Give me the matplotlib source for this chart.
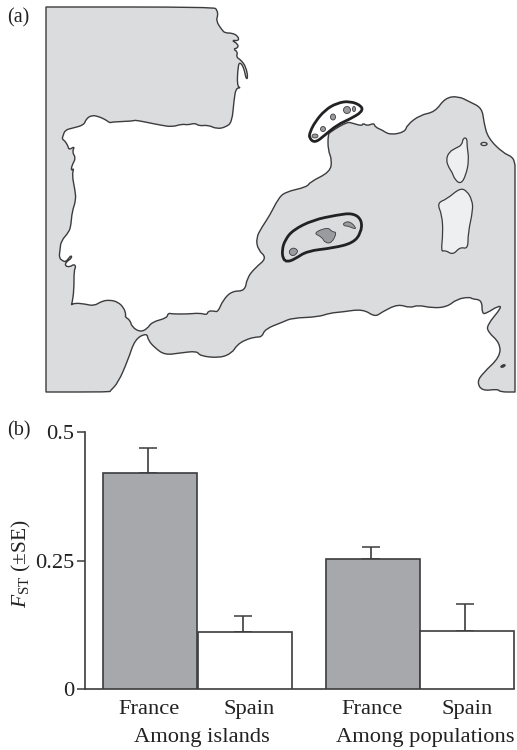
import matplotlib
matplotlib.use("Agg")
import matplotlib.pyplot as plt
from matplotlib.patches import PathPatch, Ellipse
from matplotlib.path import Path

plt.rcParams['font.family'] = ['Liberation Serif', 'DejaVu Serif']
plt.rcParams['mathtext.fontset'] = 'custom'
plt.rcParams['mathtext.rm'] = 'Liberation Serif'
plt.rcParams['mathtext.it'] = 'Liberation Serif:italic'

DARK = '#3c3c3e'
SEA = '#dbdcde'
BAR_GREY = '#a7a8ab'
ISLET = '#9a9b9e'
TEXT = '#222222'
FS = 16.2

# panel (b) values
group_labels = ['Among islands', 'Among populations']
bar_labels = ['France', 'Spain', 'France', 'Spain']
fst = [0.42, 0.111, 0.2535, 0.1135]
fst_upper = [0.469, 0.1426, 0.2757, 0.1648]
bar_colors = [BAR_GREY, 'white', BAR_GREY, 'white']

# panel (a) outlines in pixels (corners listed twice stay sharp)
sea_outline = [
    (46, 7), (46, 7), (214, 7), (217, 10), (218, 15), (216, 21), (222, 30), (225, 33), (232, 33), (238, 36),
    (239, 41), (231, 40), (238, 44), (238, 48), (233, 49), (238, 52), (236, 57), (241, 60), (246, 67),
    (248, 78), (246, 79), (244, 68), (240, 62), (238, 66), (237, 86), (241, 88), (236, 88), (234, 100),
    (232, 122), (226, 127), (217, 129), (208, 125), (199, 126), (195, 123), (188, 125), (182, 124),
    (172, 127), (160, 125), (150, 123), (135, 120), (134, 121), (111, 122), (110, 123), (106, 120),
    (100, 117), (92, 115), (86, 119), (84, 125), (73, 128), (65, 130), (63, 136), (62, 139), (65, 141),
    (68, 146), (69, 150), (75, 146), (72, 152), (76, 158), (72, 165), (71, 171), (74, 168), (72, 175),
    (75, 190), (76, 200), (72, 212), (71, 225), (69, 232), (61, 241), (60, 250), (59, 258), (63, 261),
    (66, 262), (71, 255), (72, 258), (66, 262), (65, 266), (70, 267), (74, 264), (76, 267), (74, 270),
    (74, 290), (72, 304), (71, 305), (75, 303), (85, 304), (94, 306), (102, 301), (110, 300), (118, 302),
    (124, 308), (126, 315), (125, 317), (130, 320), (132, 327), (140, 332), (147, 329), (152, 322),
    (167, 318), (168, 313), (172, 314), (188, 314), (200, 313), (207, 315), (208, 311), (214, 311),
    (218, 312), (223, 300), (232, 291), (245, 291), (247, 278), (255, 268), (267, 258), (258, 250),
    (256, 238), (262, 227), (270, 215), (278, 199), (285, 192), (307, 187), (310, 182), (330, 172),
    (332, 160), (328, 150), (328, 135), (330, 132), (347, 122), (352, 123), (362, 126), (363, 123),
    (367, 126), (374, 123), (375, 127), (382, 130), (390, 135), (405, 132), (407, 125), (420, 115),
    (435, 112), (445, 98), (458, 96), (470, 102), (482, 108), (484, 123), (488, 138), (503, 153),
    (513, 157), (515, 165), (515, 165), (515, 392), (515, 392), (500, 392), (498, 389), (482, 391), (477, 382), (483, 373),
    (500, 357), (500, 343), (488, 332), (487, 325), (502, 307), (498, 306), (487, 313), (482, 314),
    (482, 300), (472, 299), (470, 297), (457, 299), (447, 307), (432, 308), (418, 305), (410, 308),
    (398, 304), (382, 312), (375, 317), (363, 309), (342, 312), (330, 313), (318, 317), (292, 318),
    (283, 322), (265, 329), (262, 337), (255, 337), (245, 340), (237, 345), (232, 353), (220, 358),
    (200, 356), (197, 351), (180, 353), (165, 355), (155, 348), (148, 340), (147, 333), (135, 339),
    (128, 360), (118, 383), (110, 391), (110, 392), (46, 392), (46, 392),
]
corsica = [
    (463, 138), (467, 138), (467, 146), (469, 160), (466, 175), (461, 184), (455, 180), (452, 172),
    (449, 168), (446, 160), (449, 152), (456, 148), (462, 145),
]
sardinia = [
    (460, 188), (467, 191), (472, 200), (473, 210), (468, 233), (468, 249), (460, 247), (453, 255),
    (445, 250), (441, 252), (443, 233), (442, 215), (437, 203), (447, 199),
]
balearic_ring = [
    (283, 259), (282, 250), (285, 240), (293, 230), (313, 220), (337, 215), (353, 213), (362, 220),
    (361, 233), (353, 243), (333, 248), (307, 251), (295, 259), (287, 262),
]
hyeres_ring = [
    (315, 122), (325, 110), (337, 103), (350, 101), (362, 106), (362, 112), (350, 119), (337, 125),
    (325, 135), (315, 143), (309, 138), (310, 132),
]
mallorca = [(313, 233), (328, 227), (332, 232), (337, 232), (332, 243), (325, 243), (322, 237)]
menorca = [(343, 223), (350, 221), (357, 229), (352, 228), (348, 226), (344, 226)]
ibiza = [(288, 252), (293, 247), (299, 251), (293, 257)]
hyeres_islets = [(347, 110), (354, 109), (333, 117), (323, 129), (315, 136)]
hyeres_sizes = [(7, 7), (3, 5), (5, 6), (5, 5), (6, 4)]


def smooth_patch(points, **kwargs):
    # quadratic curves through the midpoints of the traced outline
    mids = [((points[i][0] + points[(i + 1) % len(points)][0]) / 2,
             (points[i][1] + points[(i + 1) % len(points)][1]) / 2) for i in range(len(points))]
    verts = [mids[-1]]
    codes = [Path.MOVETO]
    for p, m in zip(points, mids):
        verts += [p, m]
        codes += [Path.CURVE3, Path.CURVE3]
    return PathPatch(Path(verts, codes), joinstyle='round', **kwargs)


fig = plt.figure(figsize=(5.17, 7.5), dpi=100)

# (a) map
ax_map = fig.add_axes([0, 0, 1, 1])
ax_map.set_xlim(0, 517)
ax_map.set_ylim(750, 0)
ax_map.axis('off')
ax_map.add_patch(smooth_patch(sea_outline, facecolor=SEA, edgecolor=DARK, linewidth=1.0))
for isl in [corsica, sardinia]:
    ax_map.add_patch(smooth_patch(isl, facecolor='#eeeff0', edgecolor=DARK, linewidth=0.9))
for isl in [mallorca, menorca, ibiza]:
    ax_map.add_patch(smooth_patch(isl, facecolor=ISLET, edgecolor=DARK, linewidth=0.6))
for xy, size in zip(hyeres_islets, hyeres_sizes):
    ax_map.add_patch(Ellipse(xy, size[0], size[1], facecolor=ISLET, edgecolor=DARK, linewidth=0.6))
for ring in [balearic_ring, hyeres_ring]:
    ax_map.add_patch(smooth_patch(ring, facecolor='none', edgecolor='#222224', linewidth=2.0))
ax_map.add_patch(Ellipse((484, 144), 6, 3, facecolor='white', edgecolor=DARK, linewidth=1.0))
ax_map.add_patch(Ellipse((503, 366), 5, 2.5, angle=-25, facecolor=DARK, edgecolor=DARK, linewidth=0.5))
ax_map.text(7, 18, '(a)', fontsize=14.5, va='center', color=TEXT)
ax_map.text(7, 431, '(b)', fontsize=14.5, va='center', color=TEXT)

# (b) bars
ax = fig.add_axes([85 / 517, 61 / 750, 432 / 517, 257 / 750])
ax.patch.set_alpha(0)
ax.set_xlim(85, 517)
ax.set_ylim(0, 0.5)
centers = [150, 245, 373, 467]
ax.bar(centers, fst, width=94, color=bar_colors, edgecolor=DARK, linewidth=1.2, zorder=3)
for c, v, u in zip(centers, fst, fst_upper):
    ax.errorbar(c - 2, v, yerr=[[0], [u - v]], color=DARK, capsize=6.5, capthick=1.1, elinewidth=1.2, zorder=2)

for side in ['top', 'right']:
    ax.spines[side].set_visible(False)
ax.spines['left'].set_color(DARK)
ax.spines['left'].set_linewidth(1.2)
ax.spines['bottom'].set_color(DARK)
ax.spines['bottom'].set_linewidth(1.2)
ax.spines['bottom'].set_bounds(85, 514)
ax.set_yticks([0, 0.25, 0.5])
ax.set_yticklabels(['0', '0.25', '0.5'], fontsize=FS, color=TEXT)
ax.tick_params(axis='y', length=6, width=1.1, color=DARK, pad=2)
ax.set_xticks([149, 249, 372, 467])
ax.set_xticklabels(bar_labels, fontsize=FS, color=TEXT)
ax.tick_params(axis='x', length=0, pad=8)
ax.text(202, -0.0953, group_labels[0], fontsize=FS, ha='center', va='center', color=TEXT)
ax.text(425, -0.0953, group_labels[1], fontsize=FS, ha='center', va='center', color=TEXT)
ax.text(21, 0.245, r'$\mathit{F}_{\mathrm{ST}}$ ($\pm$SE)', fontsize=15.5, rotation=90, ha='center', va='center',
        color=TEXT, clip_on=False)

fig.savefig('out.png', dpi=100)
